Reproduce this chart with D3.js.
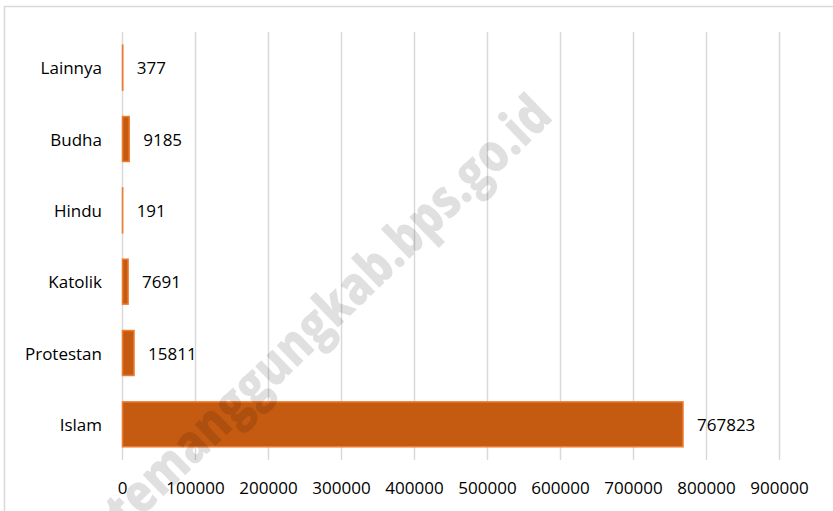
<!DOCTYPE html>
<html><head><meta charset="utf-8">
<script src="https://cdn.jsdelivr.net/npm/d3@7"></script>
<style>body{margin:0;background:#fff}svg{display:block}</style>
</head><body><div id="chart"></div>
<script>
const categories = ["Lainnya","Budha","Hindu","Katolik","Protestan","Islam"];
const values = [377,9185,191,7691,15811,767823];
const ticks = [0,100000,200000,300000,400000,500000,600000,700000,800000,900000];

const W=833,H=511;
const svg=d3.select("#chart").append("svg").attr("width",W).attr("height",H);
svg.append("rect").attr("x",4.5).attr("y",6.5).attr("width",850).attr("height",530)
  .attr("fill","#fff").attr("stroke","#D9D9D9").attr("stroke-width",1.5);

const x=d3.scaleLinear().domain([0,900000]).range([122.5,779.5]);
const y=d3.scaleBand().domain(categories).range([32,460]).paddingInner(0.37).paddingOuter(0.185);
const font="'Open Sans', sans-serif";
const fs=17;

svg.append("g").selectAll("line").data(ticks).join("line")
  .attr("x1",d=>x(d)).attr("x2",d=>x(d)).attr("y1",32).attr("y2",460)
  .attr("stroke","#D9D9D9").attr("stroke-width",1.5);

svg.append("g").selectAll("text").data(ticks).join("text")
  .attr("x",d=>x(d)).attr("y",487).attr("text-anchor","middle").attr("dominant-baseline","central")
  .attr("font-family",font).attr("font-size",fs).attr("fill","#000").text(d=>d);

svg.append("g").selectAll("rect").data(values).join("rect")
  .attr("x",x(0)).attr("y",(d,i)=>y(categories[i]))
  .attr("width",d=>Math.max(0.1,x(d)-x(0))).attr("height",y.bandwidth())
  .attr("fill","#C55A11").attr("stroke","#ED7D31").attr("stroke-width",1.5);

svg.append("g").selectAll("text").data(categories).join("text")
  .attr("x",102).attr("y",d=>y(d)+y.bandwidth()/2).attr("text-anchor","end").attr("dominant-baseline","central")
  .attr("font-family",font).attr("font-size",fs).attr("fill","#000").text(d=>d);

svg.append("g").selectAll("text").data(values).join("text")
  .attr("x",d=>x(d)+14).attr("y",(d,i)=>y(categories[i])+y.bandwidth()/2).attr("dominant-baseline","central")
  .attr("font-family",font).attr("font-size",fs).attr("fill","#000").text(d=>d);

svg.append("text").attr("transform","translate(326,310) rotate(-44)")
  .attr("text-anchor","middle").attr("dominant-baseline","central")
  .attr("font-family","'Open Sans', sans-serif").attr("font-weight","800").attr("font-size",54)
  .attr("textLength",595).attr("lengthAdjust","spacingAndGlyphs")
  .attr("fill","#000").attr("fill-opacity",0.12).text("temanggungkab.bps.go.id");
</script></body></html>
